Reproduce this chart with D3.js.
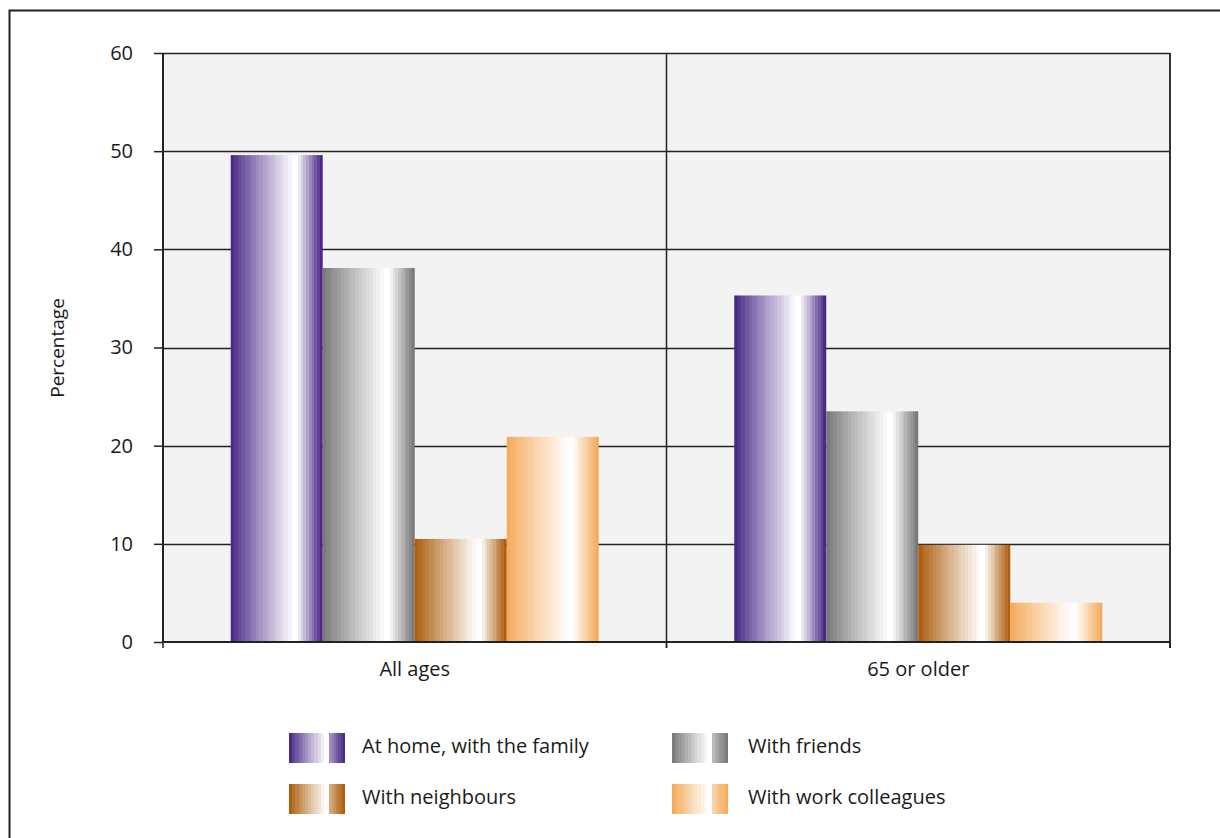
<!DOCTYPE html>
<html>
<head>
<meta charset="utf-8">
<script src="https://cdn.jsdelivr.net/npm/d3@7"></script>
<style>
  html, body { margin: 0; padding: 0; background: #ffffff; }
  svg { display: block; }
  text { font-family: "Open Sans", "DejaVu Sans", sans-serif; fill: #1a1a1a; }
</style>
</head>
<body>
<svg id="chart" width="1220" height="838"></svg>
<script>
const categories = ["All ages", "65 or older"];
const seriesNames = ["At home, with the family", "With friends", "With neighbours", "With work colleagues"];
const familyValues = [49.6, 35.3];
const friendsValues = [38.1, 23.5];
const neighboursValues = [10.5, 9.9];
const colleaguesValues = [20.9, 4.0];
const yTicks = [0, 10, 20, 30, 40, 50, 60];

const seriesValues = [familyValues, friendsValues, neighboursValues, colleaguesValues];
const seriesColors = ["#4a2a88", "#7a7a7a", "#ad5e0e", "#f4ac5c"];
const FONT = "'Open Sans', 'DejaVu Sans', sans-serif";
const FS = 20;

const svg = d3.select("#chart");
const plot = { left: 163, right: 1170, top: 53, bottom: 642 };

// outer frame (extends beyond right/bottom)
svg.append("rect").attr("x", 9.5).attr("y", 10.5).attr("width", 1300).attr("height", 1000)
  .attr("fill", "none").attr("stroke", "#222").attr("stroke-width", 2);

const x0 = d3.scaleBand().domain(categories).range([plot.left, plot.right]).paddingInner(0).paddingOuter(0);
const x1 = d3.scaleBand().domain(seriesNames).range([0, x0.bandwidth()]).paddingInner(0).paddingOuter(0.736);
const y = d3.scaleLinear().domain([0, 60]).range([plot.bottom, plot.top]);

// gradients
const defs = svg.append("defs");
function makeGradient(id, color, peak, steps, legendStyle) {
  const g = defs.append("linearGradient").attr("id", id).attr("x1", "0").attr("x2", "1").attr("y1", "0").attr("y2", "0");
  const white = "#ffffff";
  const segs = [];
  const nL = steps;
  for (let i = 0; i < nL; i++) {
    const t0 = i / nL * peak, t1 = (i + 1) / nL * peak;
    const c = d3.interpolateRgb(color, white)(Math.pow(i / (nL - 1), 0.9));
    segs.push([t0, t1, c]);
  }
  const nR = Math.round(steps * (1 - peak) / peak) + 2;
  for (let i = 0; i < nR; i++) {
    const t0 = peak + i / nR * (1 - peak), t1 = peak + (i + 1) / nR * (1 - peak);
    let f = i / (nR - 1);
    if (legendStyle) f = i === 0 ? 0 : 0.45 + 0.55 * f;
    const c = d3.interpolateRgb(white, color)(f);
    segs.push([t0, t1, c]);
  }
  segs.forEach(s => {
    g.append("stop").attr("offset", s[0]).attr("stop-color", s[2]);
    g.append("stop").attr("offset", s[1]).attr("stop-color", s[2]);
  });
}
seriesColors.forEach((c, i) => {
  makeGradient("bar" + i, c, 0.7, 18, false);
  makeGradient("leg" + i, c, 0.68, 12, true);
});

// plot background
svg.append("rect").attr("x", plot.left).attr("y", plot.top)
  .attr("width", plot.right - plot.left).attr("height", plot.bottom - plot.top)
  .attr("fill", "#f3f3f3");

// gridlines
svg.append("g").selectAll("line").data(yTicks.filter(d => d > 0)).join("line")
  .attr("x1", plot.left).attr("x2", plot.right)
  .attr("y1", d => Math.round(y(d)) + 0.5).attr("y2", d => Math.round(y(d)) + 0.5)
  .attr("stroke", "#222").attr("stroke-width", 1.5);

// category divider(s)
svg.append("g").selectAll("line").data(categories.slice(1)).join("line")
  .attr("x1", d => x0(d)).attr("x2", d => x0(d))
  .attr("y1", plot.top).attr("y2", plot.bottom + 6)
  .attr("stroke", "#222").attr("stroke-width", 1.5);

// right border
svg.append("line").attr("x1", plot.right).attr("x2", plot.right)
  .attr("y1", plot.top).attr("y2", plot.bottom + 6)
  .attr("stroke", "#333").attr("stroke-width", 2);

// bars
const groups = svg.append("g").selectAll("g").data(categories).join("g")
  .attr("transform", d => `translate(${x0(d)},0)`);
groups.selectAll("rect").data((c, ci) => seriesNames.map((s, si) => ({ s, si, v: seriesValues[si][ci] })))
  .join("rect")
  .attr("x", d => x1(d.s)).attr("width", x1.bandwidth())
  .attr("y", d => y(d.v)).attr("height", d => y(0) - y(d.v))
  .attr("fill", d => `url(#bar${d.si})`);

// y axis
const yAxis = d3.axisLeft(y).tickValues(yTicks).tickSize(9).tickPadding(21).tickFormat(d3.format("d"));
const yg = svg.append("g").attr("transform", `translate(${plot.left},0)`).call(yAxis);
yg.select(".domain").attr("stroke", "#222").attr("stroke-width", 2).attr("d", `M0,${plot.top}V${plot.bottom}`);
yg.selectAll(".tick line").attr("stroke", "#222").attr("stroke-width", 1.5);
yg.selectAll("text").attr("font-size", FS).attr("fill", "#1a1a1a").attr("font-family", FONT);

// x axis
const xAxis = d3.axisBottom(x0).tickSize(0).tickPadding(20);
const xg = svg.append("g").attr("transform", `translate(0,${plot.bottom})`).call(xAxis);
xg.select(".domain").attr("stroke", "#222").attr("stroke-width", 2).attr("d", `M${plot.left},0H${plot.right}`);
xg.selectAll("text").attr("font-size", FS).attr("fill", "#1a1a1a").attr("font-family", FONT);
const bounds = [plot.left, ...categories.slice(1).map(c => x0(c)), plot.right];
svg.append("g").selectAll("line").data(bounds).join("line")
  .attr("x1", d => d).attr("x2", d => d).attr("y1", plot.bottom).attr("y2", plot.bottom + 6)
  .attr("stroke", "#222").attr("stroke-width", 1.5);

// y axis title
svg.append("text").attr("transform", "translate(64,348) rotate(-90)")
  .attr("text-anchor", "middle").attr("font-size", 19).text("Percentage");

// legend
const legendPos = [[289, 733], [672, 733], [289, 784], [672, 784]];
const lg = svg.append("g").selectAll("g").data(seriesNames).join("g")
  .attr("transform", (d, i) => `translate(${legendPos[i][0]},${legendPos[i][1]})`);
lg.append("rect").attr("width", 56).attr("height", 30).attr("fill", (d, i) => `url(#leg${i})`);
lg.append("text").attr("x", (d, i) => i % 2 === 0 ? 73 : 76).attr("y", 13).attr("dy", "0.35em")
  .attr("font-size", FS).text(d => d);
</script>
</body>
</html>
